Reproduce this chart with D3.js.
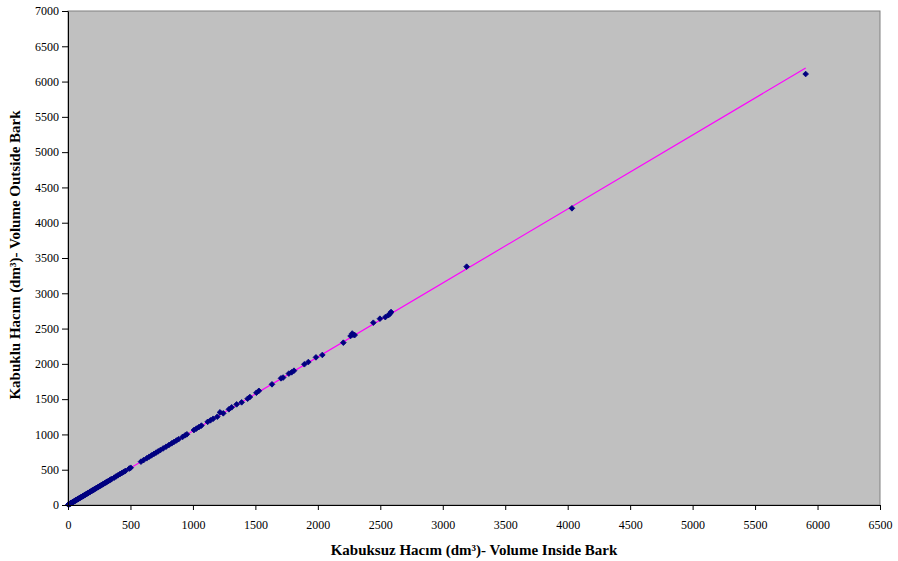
<!DOCTYPE html>
<html>
<head>
<meta charset="utf-8">
<script src="https://cdn.jsdelivr.net/npm/d3@7"></script>
<style>
  html, body { margin: 0; padding: 0; background: #fff; }
  svg { display: block; }
</style>
</head>
<body>
<div id="chart"></div>
<script>
// Kabuksuz hacim (inside bark), dm3
const volumeInside = [
  3, 6, 9, 12, 15, 18, 21, 24, 27, 30, 34, 38, 42, 46, 50, 54, 58, 62, 66, 70,
  75, 80, 85, 90, 95, 100, 105, 110, 116, 122, 128, 134, 140, 146, 152, 158, 165, 172, 179, 186,
  193, 200, 207, 214, 222, 230, 238, 246, 254, 262, 270, 278, 286, 295, 304, 313, 322, 332, 342, 350,
  370, 385, 400, 415, 430, 445, 460, 490, 502,
  584, 605, 630, 650, 668, 688, 705, 722, 740, 762, 785, 808, 830, 848, 868, 885, 918, 938, 952,
  1008, 1028, 1048, 1068, 1118, 1140, 1162, 1195, 1217, 1243, 1288, 1310, 1350, 1390, 1438, 1456,
  1508, 1528, 1633, 1705, 1722, 1768, 1790, 1809, 1892, 1924, 1985, 2036, 2204,
  2262, 2275, 2282, 2295, 2444, 2497, 2540, 2565, 2578, 2586,
  3191, 4034, 5905
];
// Kabuklu hacim (outside bark), dm3
const volumeOutside = [
  4, 7, 10, 13, 16, 20, 23, 26, 29, 32, 36, 41, 45, 49, 53, 57, 62, 66, 70, 74,
  80, 85, 90, 95, 101, 106, 111, 116, 123, 129, 135, 141, 148, 154, 160, 167, 174, 181, 189, 196,
  204, 211, 218, 226, 234, 243, 251, 259, 268, 276, 284, 293, 301, 311, 320, 330, 339, 350, 360, 369,
  388, 405, 421, 437, 452, 468, 484, 516, 528,
  614, 636, 662, 684, 703, 724, 742, 760, 779, 802, 826, 850, 874, 893, 914, 932, 966, 988, 1002,
  1062, 1083, 1104, 1125, 1178, 1200, 1222, 1251, 1313, 1299, 1356, 1384, 1426, 1455, 1506, 1530,
  1590, 1618, 1710, 1795, 1806, 1862, 1880, 1903, 1994, 2026, 2092, 2126, 2300,
  2395, 2430, 2412, 2408, 2583, 2640, 2662, 2690, 2712, 2735,
  3377, 4204, 6107
];

// Linear trend line (Excel style), drawn over the data range
const trendSlope = 1.0486;
const trendIntercept = 0;

const xTicks = d3.range(0, 6501, 500);
const yTicks = d3.range(0, 7001, 500);

const points = volumeInside.map((v, i) => ({ x: v, y: volumeOutside[i] }));

const W = 898, H = 561;
const margin = { top: 11, right: 18, bottom: 56, left: 68 };
const width = W - margin.left - margin.right;
const height = H - margin.top - margin.bottom;

const svg = d3.select('#chart')
  .append('svg')
  .attr('width', W)
  .attr('height', H);

const g = svg.append('g')
  .attr('transform', `translate(${margin.left},${margin.top})`);

const x = d3.scaleLinear().domain([0, 6500]).range([0, width]);
const y = d3.scaleLinear().domain([0, 7000]).range([height, 0]);

// Plot area
g.append('rect')
  .attr('width', width)
  .attr('height', height)
  .attr('fill', '#c0c0c0')
  .attr('stroke', '#808080')
  .attr('stroke-width', 1);

// Trend line
const xMin = d3.min(volumeInside), xMax = d3.max(volumeInside);
g.append('line')
  .attr('x1', x(xMin))
  .attr('y1', y(trendSlope * xMin + trendIntercept))
  .attr('x2', x(xMax))
  .attr('y2', y(trendSlope * xMax + trendIntercept))
  .attr('stroke', '#ff00ff')
  .attr('stroke-width', 1.2);

// Points (small diamond markers)
g.selectAll('.pt')
  .data(points)
  .join('path')
  .attr('class', 'pt')
  .attr('transform', d => `translate(${x(d.x)},${y(d.y)}) rotate(45)`)
  .attr('d', d3.symbol().type(d3.symbolSquare).size(16))
  .attr('fill', '#000080')
  .attr('stroke', '#000080')
  .attr('stroke-width', 0.8);

// X axis
const xAxis = g.append('g')
  .attr('transform', `translate(0,${height})`)
  .call(d3.axisBottom(x).tickValues(xTicks).tickFormat(d3.format('d')).tickSize(5).tickSizeOuter(0).tickPadding(10));

// Y axis
const yAxis = g.append('g')
  .call(d3.axisLeft(y).tickValues(yTicks).tickFormat(d3.format('d')).tickSize(6).tickSizeOuter(0).tickPadding(3));

[xAxis, yAxis].forEach(a => {
  a.selectAll('text')
    .style('font-family', '"Liberation Serif", "Times New Roman", serif')
    .style('font-size', '12px')
    .attr('fill', '#000');
  a.selectAll('.domain, .tick line')
    .attr('stroke', '#000')
    .attr('stroke-width', 1);
});

// Axis titles
svg.append('text')
  .attr('x', margin.left + width / 2)
  .attr('y', 555)
  .attr('text-anchor', 'middle')
  .style('font-family', '"Liberation Serif", "Times New Roman", serif')
  .style('font-size', '15px')
  .style('font-weight', 'bold')
  .text('Kabuksuz Hacım (dm³)- Volume Inside Bark');

svg.append('text')
  .attr('transform', `translate(20,${margin.top + height / 2 - 3}) rotate(-90)`)
  .attr('text-anchor', 'middle')
  .style('font-family', '"Liberation Serif", "Times New Roman", serif')
  .style('font-size', '15px')
  .style('font-weight', 'bold')
  .text('Kabuklu Hacım (dm³)- Volume Outside Bark');
</script>
</body>
</html>
